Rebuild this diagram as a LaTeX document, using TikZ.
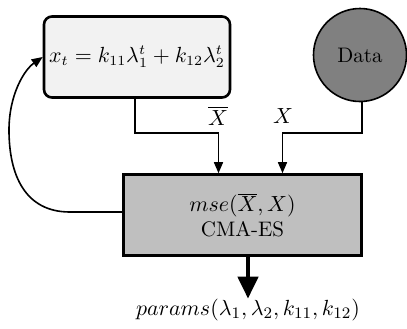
\documentclass[tikz,border=0pt]{standalone}
\usetikzlibrary{arrows.meta,calc}
\begin{document}
\begin{tikzpicture}[x=0.5pt,y=-0.5pt,font=\fontsize{10.5}{12.5}\selectfont,
  conn/.style={line width=0.8pt,-{Triangle[width=4.5pt,length=5.5pt]}},
  boxline/.style={line width=1.3pt},
  bigarr/.style={line width=2.2pt,-{Triangle[width=10pt,length=11pt]}}]
\useasboundingbox (0,0) rectangle (407,328);
\node[boxline,draw,fill=black!5,rounded corners=4pt,minimum width=93pt,minimum height=40.5pt,inner sep=0pt] (model) at (137,57)
  {$x_t = k_{11}\lambda_1^t + k_{12}\lambda_2^t$};
\node[draw,line width=0.8pt,circle,fill=black!50,minimum size=46.5pt,inner sep=0pt] (data) at (360,55) {Data};
\node[boxline,draw,fill=black!25,minimum width=119pt,minimum height=40.5pt,align=center,inner sep=0pt] (opt) at (242.5,215)
  {$mse(\overline{X},X)$\\CMA-ES};
\node[font=\fontsize{11}{13}\selectfont,inner sep=0pt] (out) at (248,310) {$params(\lambda_1,\lambda_2,k_{11},k_{12})$};
\coordinate (m1) at (135,133);
\coordinate (d1) at (362,133);
\coordinate (c1) at (70,212);
\coordinate (c2) at (9,130);
\draw[conn] (model.south -| m1) -- (m1) -| ($(opt.north)+(-24,0)$);
\draw[conn] (data.south -| d1) -- (d1) -| ($(opt.north)+(40,0)$);
\node (xbar) at (218,116) {$\overline{X}$};
\node (xx) at (283,116) {$X$};
\draw[conn] (opt.west |- c1) -- (c1) .. controls (25,212) and (9,175) .. (c2)
  .. controls (9,95) and (24,70) .. (model.west);
\draw[bigarr] (opt.south -| 248,0) -- (out.north);
\end{tikzpicture}
\end{document}
